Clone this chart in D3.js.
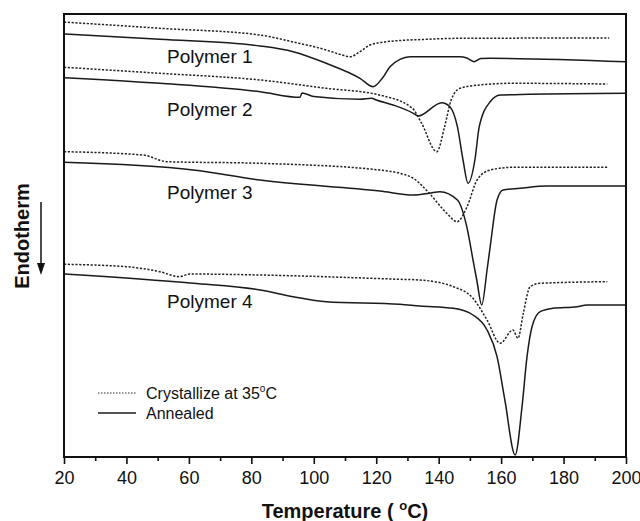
<!DOCTYPE html>
<html>
<head>
<meta charset="utf-8">
<script src="https://cdn.jsdelivr.net/npm/d3@7"></script>
<style>
  body { margin: 0; background: #fff; }
  svg { display: block; font-family: "Liberation Sans", Arial, sans-serif; }
</style>
</head>
<body>
<div id="chart"></div>
<script>
// DSC traces, [temperature (C), heat flow (a.u.)]
const poly1Cryst = [[20,435],[50.7,428.7],[82.8,422],[93,415.3],[104,407],[108,403],[111.6,400.3],[114.8,405.3],[118,412],[123.4,415.3],[136,417.7],[146.8,418.7],[194.6,419]];
const poly1Anneal = [[20,423],[50.7,417.7],[82.8,411],[93.4,405.3],[104,393.7],[114.8,378.7],[119,370.3],[122,379],[124.4,390.3],[127.6,397.7],[130.8,400.3],[146.8,400.3],[149,399],[151.3,395.3],[153.5,398.5],[156.5,398.7],[200,395.3]];
const poly2Cryst = [[20,389.7],[50.7,383.7],[82.8,377],[104,368.7],[121,362],[131.5,349],[134.5,334],[139.4,305.3],[141.9,330.3],[144,357],[146.8,368.7],[153,372],[163.8,373.7],[194,373]];
const poly2Anneal = [[20,379.3],[50.7,373.7],[82.8,365.3],[95.6,359.7],[96.2,364],[100,360.5],[114.8,357.7],[118.5,358.7],[120,357],[125.4,352],[131.9,343.7],[133.4,341],[141,354.3],[143.6,350.3],[146,330.3],[147.8,297],[149.4,273.7],[151.6,297],[153,330.3],[156.5,355.3],[159.7,362],[169,362.7],[200,363.7]];
const poly3Cryst = [[20,305.3],[45.3,302],[53,295.3],[82.8,293.7],[121,287],[127.6,283.7],[131.9,278.7],[137,263.7],[142.6,243.7],[145.9,235.3],[149.1,250.3],[152.3,277],[156.5,287],[163.8,289.7],[194,289.7]];
const poly3Anneal = [[20,294.7],[61.4,287],[82.8,277],[121.2,266],[131.9,262],[137,263.7],[140.4,265.3],[146,257],[149,230.3],[151,197],[152.2,177],[153.8,152],[155.5,187],[156.5,210.3],[158.7,257],[160.6,267],[166,268.7],[174.6,271],[200,271]];
const poly4Cryst = [[20,192.7],[40,190.3],[50.7,185.3],[57,180.3],[60.2,183],[82.8,182],[127.6,177.7],[134,177],[144.7,170.3],[151,158.7],[155.5,137],[159.7,113.7],[163.8,127],[165.4,118.7],[167.1,143.7],[169.3,170.3],[172.5,173.7],[194,175.3]];
const poly4Anneal = [[20,183],[61.4,173.7],[82.8,167],[93.4,160.3],[104,155.3],[127.6,152.7],[134,151],[144.7,148.7],[151,142],[155.5,127],[158.7,100.3],[161.2,57],[164.5,2],[166.7,50.3],[168.3,100.3],[169.9,130.3],[172.5,145.3],[176.6,148.7],[184.3,150.3],[187.5,152],[200,152]];

const polymerNames = ["Polymer 1", "Polymer 2", "Polymer 3", "Polymer 4"];
const labelAt = [[53, 394], [53, 341], [53, 258], [53, 149]];
const xTicks = [20, 40, 60, 80, 100, 120, 140, 160, 180, 200];
const xMinorTicks = [30, 50, 70, 90, 110, 130, 150, 170, 190];

const W = 640, H = 521;
const margin = { top: 14, right: 14, bottom: 64, left: 64 };
const width = W - margin.left - margin.right,
  height = H - margin.top - margin.bottom;

const svg = d3.select("#chart").append("svg")
  .attr("width", W).attr("height", H);
const g = svg.append("g")
  .attr("transform", "translate(" + margin.left + "," + margin.top + ")");

const x = d3.scaleLinear().domain([20, 200]).range([0, width]);
const y = d3.scaleLinear().domain([0, 443]).range([height, 0]);

const line = d3.line()
  .x(d => x(d[0]))
  .y(d => y(d[1]))
  .curve(d3.curveMonotoneX);

const series = [
  [poly1Cryst, true], [poly1Anneal, false],
  [poly2Cryst, true], [poly2Anneal, false],
  [poly3Cryst, true], [poly3Anneal, false],
  [poly4Cryst, true], [poly4Anneal, false]
];

g.append("g").selectAll("path")
  .data(series)
  .join("path")
  .attr("fill", "none")
  .attr("stroke", d => d[1] ? "#222" : "#1a1a1a")
  .attr("stroke-width", d => d[1] ? 1.5 : 1.5)
  .attr("stroke-dasharray", d => d[1] ? "2.2,1.6" : null)
  .attr("d", d => line(d[0]));

// polymer labels
g.append("g").selectAll("text")
  .data(polymerNames)
  .join("text")
  .attr("x", (d, i) => x(labelAt[i][0]))
  .attr("y", (d, i) => y(labelAt[i][1]))
  .attr("font-size", 19)
  .attr("fill", "#111")
  .text(d => d);

// axes
const xAxis = d3.axisBottom(x)
  .tickValues(xTicks)
  .tickSize(7)
  .tickSizeOuter(0)
  .tickPadding(7);
const ax = g.append("g")
  .attr("transform", "translate(0," + height + ")")
  .call(xAxis);
ax.select(".domain").remove();
ax.selectAll("line").attr("stroke", "#111").attr("stroke-width", 1.6);
ax.selectAll("text")
  .attr("font-size", 18)
  .attr("fill", "#111")
  .attr("font-family", "Liberation Sans, Arial, sans-serif");

const xMinor = d3.axisBottom(x)
  .tickValues(xMinorTicks)
  .tickSize(4)
  .tickFormat("");
const axm = g.append("g")
  .attr("transform", "translate(0," + height + ")")
  .call(xMinor);
axm.select(".domain").remove();
axm.selectAll("line").attr("stroke", "#111").attr("stroke-width", 1.6);

// frame
g.append("rect")
  .attr("width", width).attr("height", height)
  .attr("fill", "none")
  .attr("stroke", "#111")
  .attr("stroke-width", 2);

// x title
const title = svg.append("text")
  .attr("x", margin.left + width / 2)
  .attr("y", 518)
  .attr("text-anchor", "middle")
  .attr("font-size", 20)
  .attr("font-weight", "bold")
  .attr("fill", "#111");
title.append("tspan").text("Temperature ( ");
title.append("tspan").attr("font-size", 13).attr("dy", -8).text("o");
title.append("tspan").attr("dy", 8).text("C)");

// y label
svg.append("text")
  .attr("transform", "translate(29,236) rotate(-90)")
  .attr("text-anchor", "middle")
  .attr("font-size", 20)
  .attr("font-weight", "bold")
  .attr("fill", "#111")
  .text("Endotherm");

svg.append("line")
  .attr("x1", 41).attr("x2", 41)
  .attr("y1", 202).attr("y2", 264)
  .attr("stroke", "#111")
  .attr("stroke-width", 1.5);
svg.append("path")
  .attr("d", "M37,263 L45,263 L41,275 Z")
  .attr("fill", "#111");

// legend
const legend = svg.append("g").attr("transform", "translate(98,393)");
const legItems = [["Crystallize at 35", true], ["Annealed", false]];
legItems.forEach((item, i) => {
  legend.append("line")
    .attr("x1", 0).attr("x2", 38)
    .attr("y1", i * 20).attr("y2", i * 20)
    .attr("stroke", item[1] ? "#333" : "#1a1a1a")
    .attr("stroke-width", item[1] ? 1.2 : 1.5)
    .attr("stroke-dasharray", item[1] ? "1.5,1.5" : null);
  const t = legend.append("text")
    .attr("x", 48)
    .attr("y", i * 20)
    .attr("dy", "0.35em")
    .attr("font-size", 16)
    .attr("fill", "#111");
  t.append("tspan").text(item[0]);
  if (item[1]) {
    t.append("tspan").attr("font-size", 10).attr("dy", -7).text("o");
    t.append("tspan").attr("dy", 7).text("C");
  }
});
</script>
</body>
</html>
